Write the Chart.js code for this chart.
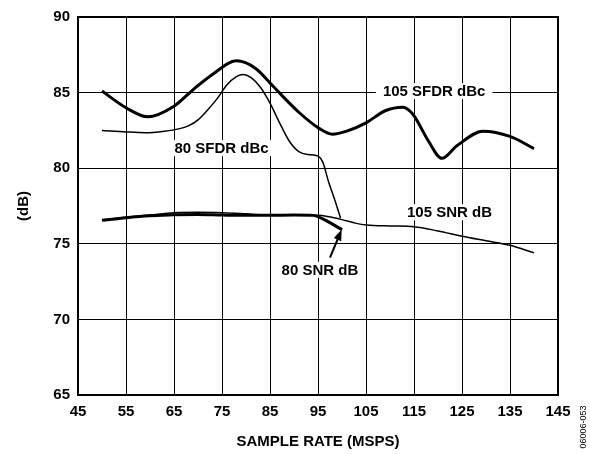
<!DOCTYPE html>
<html>
<head>
<meta charset="utf-8">
<script src="https://cdn.jsdelivr.net/npm/chart.js@4"></script>
<style>
    body { margin: 0; background: #fff; }
    #wrap { width: 590px; height: 454px; position: relative; }
</style>
</head>
<body>
<div id="wrap"><canvas id="snrChart"></canvas></div>
<script>
const sfdr105Rate = [50, 55, 59.5, 65, 69, 73, 78, 82, 85.7, 91, 95.4, 98, 101, 105, 109, 112.7, 114.8, 118, 120.8, 124, 129.4, 135, 140];
const sfdr105 = [85.1, 84.0, 83.4, 84.1, 85.2, 86.2, 87.1, 86.6, 85.4, 83.7, 82.6, 82.25, 82.45, 83.0, 83.8, 84.03, 83.55, 81.8, 80.65, 81.5, 82.45, 82.1, 81.3];

const sfdr80Rate = [50, 55, 59, 63, 66, 68, 70, 72, 74, 76, 78, 79.4, 81, 83, 85, 87, 89, 91, 93, 95, 96, 97.2, 98.5, 99.7];
const sfdr80 = [82.5, 82.4, 82.35, 82.45, 82.6, 82.8, 83.2, 83.85, 84.6, 85.5, 86.05, 86.2, 86.0, 85.35, 84.3, 83.0, 81.8, 81.1, 80.9, 80.8, 80.4, 79.1, 77.9, 76.7];

const snr105Rate = [50, 55, 60, 65, 70, 75, 80, 85, 90, 95, 97, 100, 103, 105, 110, 115, 120, 125, 130, 135, 140];
const snr105 = [76.58, 76.75, 76.9, 77.05, 77.08, 77.05, 76.98, 76.9, 76.9, 76.88, 76.8, 76.6, 76.35, 76.25, 76.18, 76.13, 75.85, 75.5, 75.2, 74.9, 74.4];

const snr80Rate = [50, 55, 60, 65, 70, 75, 80, 85, 90, 94, 96, 98, 100];
const snr80 = [76.55, 76.72, 76.85, 76.92, 76.93, 76.9, 76.88, 76.88, 76.9, 76.88, 76.65, 76.3, 75.93];

const xTicks = [45, 55, 65, 75, 85, 95, 105, 115, 125, 135, 145];
const yTicks = [65, 70, 75, 80, 85, 90];

// curve labels, in data units
const noteText = ["105 SFDR dBc", "80 SFDR dBc", "105 SNR dB", "80 SNR dB"];
const noteX = [119.2, 74.9, 122.4, 95.4];
const noteY = [85.1, 81.33, 77.09, 73.28];
const arrowFrom = [97.5, 74.09];
const arrowTo = [99.94, 75.95];

const FONT = "'Liberation Sans', Arial, Helvetica, sans-serif";

function pts(xs, ys) {
    return xs.map((x, i) => ({ x: x, y: ys[i] }));
}

const frameAndNotes = {
    id: "frameAndNotes",
    beforeDatasetsDraw(chart) {
        const ctx = chart.ctx;
        const xs = chart.scales.x;
        const ys = chart.scales.y;
        ctx.save();
        ctx.font = "bold 15px " + FONT;
        ctx.textAlign = "center";
        ctx.textBaseline = "middle";
        noteText.forEach((t, i) => {
            const px = xs.getPixelForValue(noteX[i]);
            const py = ys.getPixelForValue(noteY[i]);
            const w = ctx.measureText(t).width;
            ctx.fillStyle = "#fff";
            ctx.fillRect(px - w / 2 - 7, py - 8, w + 14, 16);
            ctx.fillStyle = "#000";
            ctx.fillText(t, px, py + 1);
        });

        // arrow for 80 SNR
        const x1 = xs.getPixelForValue(arrowFrom[0]);
        const y1 = ys.getPixelForValue(arrowFrom[1]);
        const x2 = xs.getPixelForValue(arrowTo[0]);
        const y2 = ys.getPixelForValue(arrowTo[1]);
        const a = Math.atan2(y2 - y1, x2 - x1);
        ctx.strokeStyle = "#000";
        ctx.lineWidth = 2;
        ctx.beginPath();
        ctx.moveTo(x1, y1);
        ctx.lineTo(x2 - 8 * Math.cos(a), y2 - 8 * Math.sin(a));
        ctx.stroke();
        ctx.fillStyle = "#000";
        ctx.beginPath();
        ctx.moveTo(x2, y2);
        ctx.lineTo(x2 - 11 * Math.cos(a) + 4 * Math.sin(a), y2 - 11 * Math.sin(a) - 4 * Math.cos(a));
        ctx.lineTo(x2 - 11 * Math.cos(a) - 4 * Math.sin(a), y2 - 11 * Math.sin(a) + 4 * Math.cos(a));
        ctx.closePath();
        ctx.fill();

        const area = chart.chartArea;
        ctx.lineWidth = 2;
        ctx.strokeRect(area.left, area.top, area.right - area.left, area.bottom - area.top);
        ctx.restore();
    },
    afterDraw(chart) {
        const ctx = chart.ctx;
        ctx.save();
        ctx.translate(584, 427);
        ctx.rotate(-Math.PI / 2);
        ctx.font = "9px " + FONT;
        ctx.textAlign = "center";
        ctx.textBaseline = "middle";
        ctx.fillStyle = "#000";
        ctx.fillText("06006-053", 0, 0);
        ctx.restore();
    }
};

const line = (data, width) => ({
    data: data,
    borderColor: "#000",
    borderWidth: width,
    pointRadius: 0,
    fill: false,
    cubicInterpolationMode: "monotone"
});

new Chart(document.getElementById("snrChart"), {
    type: "line",
    data: {
        datasets: [
            line(pts(sfdr105Rate, sfdr105), 3),
            line(pts(snr80Rate, snr80), 3),
            line(pts(sfdr80Rate, sfdr80), 1.5),
            line(pts(snr105Rate, snr105), 1.5)
        ]
    },
    options: {
        responsive: true,
        maintainAspectRatio: false,
        animation: false,
        layout: { autoPadding: false, padding: { left: 0, top: 13, right: 32, bottom: 0 } },
        plugins: { legend: { display: false }, tooltip: { enabled: false } },
        scales: {
            x: {
                type: "linear",
                min: 45,
                max: 145,
                afterBuildTicks: s => { s.ticks = xTicks.map(v => ({ value: v })); },
                afterFit: s => { s.height = 59; },
                grid: { color: "#000", lineWidth: 1, drawTicks: false },
                border: { color: "#000", width: 2 },
                ticks: { color: "#000", padding: 8, font: { family: FONT, size: 15, weight: "bold" } },
                title: {
                    display: true,
                    text: "SAMPLE RATE (MSPS)",
                    color: "#000",
                    padding: { top: 0, bottom: 3 },
                    font: { family: FONT, size: 15, weight: "bold" }
                }
            },
            y: {
                min: 65,
                max: 90,
                afterBuildTicks: s => { s.ticks = yTicks.map(v => ({ value: v })); },
                afterFit: s => { s.width = 78; },
                grid: { color: "#000", lineWidth: 1, drawTicks: false },
                border: { color: "#000", width: 2 },
                ticks: { color: "#000", padding: 8, font: { family: FONT, size: 15, weight: "bold" } },
                title: {
                    display: true,
                    text: "(dB)",
                    color: "#000",
                    padding: { top: 15, bottom: 0 },
                    font: { family: FONT, size: 15, weight: "bold" }
                }
            }
        }
    },
    plugins: [frameAndNotes]
});
</script>
</body>
</html>
